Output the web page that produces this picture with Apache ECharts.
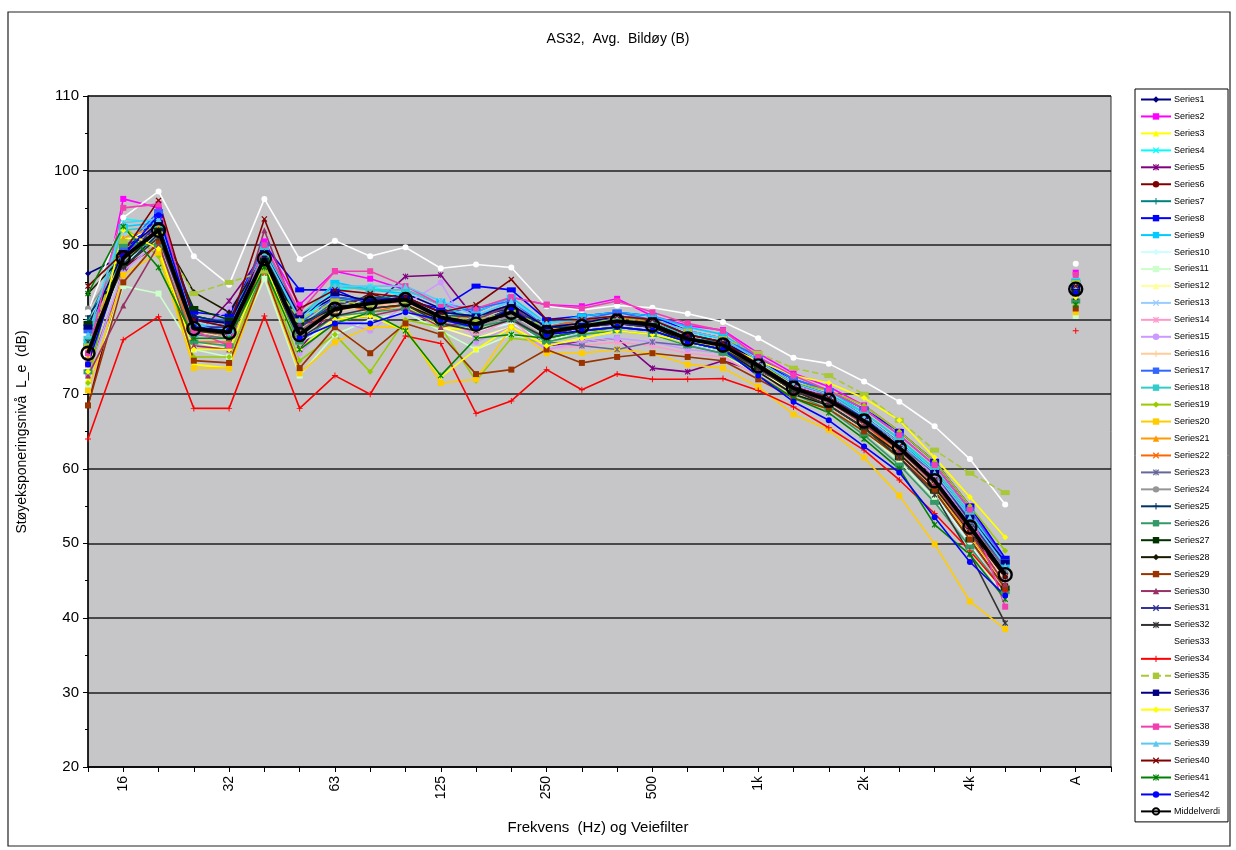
<!DOCTYPE html>
<html><head><meta charset="utf-8">
<script src="https://cdn.jsdelivr.net/npm/echarts@6/dist/echarts.min.js"></script>
<style>html,body{margin:0;padding:0;background:#fff}#c{width:1236px;height:850px}</style>
</head><body><div id="c"></div>
<script>
// categories: 1/3-octave bands 12.5 Hz .. 5 kHz, empty slot, A-weighted, end slot
const categories = ['12.5','16','20','25','32','40','50','63','80','100','125','160','200','250','315','400','500','630','800','1k','1.25k','1.6k','2k','2.5k','3.15k','4k','5k',' ','A','  '];
const yTicks = [20,30,40,50,60,70,80,90,100,110];

const s1  = [86.2,88.5,93.8,80.5,79.5,89.5,80.5,83.0,82.5,83.5,81.5,80.0,82.0,79.0,79.5,80.0,79.5,78.0,77.0,74.0,71.0,69.5,66.8,63.0,58.5,52.0,45.5,null,84.5];
const s2  = [74.0,96.2,95.0,79.5,78.0,90.5,82.0,86.5,85.5,84.0,82.0,81.0,83.0,82.0,81.8,82.8,80.5,79.2,78.6,75.5,72.8,71.0,68.5,65.0,61.0,55.0,47.5,null,86.3];
const s3  = [72.0,91.0,90.0,74.0,73.5,87.0,76.0,80.0,81.0,82.0,79.0,78.5,80.0,77.0,78.0,78.5,78.0,76.5,75.5,72.5,69.5,68.0,65.0,61.5,57.0,50.5,44.0,null,83.0];
const s4  = [78.0,93.5,93.0,79.0,78.5,89.0,79.5,84.0,84.5,83.0,81.0,80.5,82.5,79.5,80.0,80.5,80.0,78.0,77.5,74.5,71.5,70.0,67.5,64.0,59.5,53.5,46.5,null,84.8];
const s5  = [73.0,86.0,93.5,77.5,82.5,89.0,76.0,82.0,81.5,85.8,86.0,80.0,80.5,76.5,77.0,77.5,73.5,73.0,74.5,73.0,71.0,70.0,67.0,63.5,59.0,52.5,45.0,null,82.5];
const s6  = [68.5,87.0,90.0,78.5,77.5,87.5,78.5,81.0,83.5,82.0,80.0,79.0,81.5,78.0,79.0,79.5,79.0,77.0,76.5,73.5,70.5,69.0,66.0,62.5,58.0,51.5,44.5,null,83.5];
const s7  = [80.0,90.0,91.5,80.0,79.0,88.5,79.0,82.5,83.0,83.0,81.0,80.5,82.0,78.5,79.5,80.0,79.5,77.5,77.0,74.0,71.0,69.5,66.5,63.0,58.5,52.5,46.0,null,84.0];
const s8  = [76.5,89.0,94.0,81.0,80.5,90.0,84.0,84.0,82.0,82.5,81.5,84.5,84.0,80.0,80.5,81.0,80.5,78.5,77.5,74.5,72.0,70.5,68.0,65.0,61.0,55.0,48.0,null,85.0];
const s9  = [77.0,92.5,93.0,78.0,79.5,89.5,80.0,85.0,84.0,83.5,82.5,81.0,83.0,79.5,80.5,81.0,80.5,79.0,78.0,75.0,72.0,70.5,67.5,64.0,60.0,54.0,47.0,null,85.2];
const s10 = [75.0,87.5,91.0,79.0,78.5,87.5,77.0,79.5,81.0,82.0,80.0,78.5,79.5,77.0,78.0,79.0,78.5,77.0,76.0,73.0,70.0,68.5,65.5,61.5,56.5,50.0,43.0,null,83.0];
const s11 = [71.0,84.5,83.5,76.0,75.0,85.5,72.5,78.0,80.0,81.0,78.5,76.0,78.0,77.0,78.5,79.0,78.5,77.0,75.5,72.5,70.0,68.0,65.0,61.0,56.0,49.0,43.0,null,80.5];
const s12 = [73.5,90.5,92.5,77.0,76.0,86.5,77.5,80.0,81.0,81.5,79.0,77.5,79.0,76.5,77.5,78.5,78.0,76.5,75.5,73.0,70.5,69.0,66.0,62.0,57.5,51.0,44.0,null,82.5];
const s13 = [79.0,91.5,92.0,79.5,79.0,88.5,78.5,81.5,82.0,83.5,82.5,81.5,82.5,78.0,78.0,77.5,77.0,76.5,76.0,73.5,70.5,69.0,66.0,62.5,58.0,51.5,45.0,null,83.8];
const s14 = [74.5,88.0,93.5,76.5,76.0,86.5,77.0,80.5,81.5,82.5,80.0,78.0,80.0,76.0,76.5,77.0,76.5,75.5,75.0,72.5,70.0,68.5,65.5,62.0,57.0,50.5,43.5,null,82.8];
const s15 = [72.5,86.5,90.5,78.0,81.5,88.0,75.5,80.0,78.5,82.0,85.0,77.0,79.0,76.0,77.0,77.5,77.0,76.0,75.5,73.5,71.0,70.0,67.0,63.5,59.0,52.5,46.0,null,83.2];
const s16 = [76.0,89.5,91.5,78.5,77.5,87.0,78.0,81.0,82.0,82.0,80.5,79.5,81.0,78.5,79.5,80.0,79.5,77.5,76.5,73.5,70.5,69.0,66.0,62.5,58.0,51.5,45.0,null,84.0];
const s17 = [78.5,89.5,94.5,80.0,80.0,90.0,79.5,83.0,82.5,83.0,81.0,81.5,82.5,79.0,80.0,81.0,80.0,78.5,77.5,75.0,72.0,70.5,68.0,64.5,60.5,54.5,47.5,null,84.6];
const s18 = [77.5,92.0,92.5,79.5,78.5,89.5,80.5,84.5,84.0,84.0,82.0,80.0,82.0,79.0,79.5,80.0,79.5,78.0,77.0,74.5,71.5,70.0,67.5,64.0,60.0,54.0,47.5,null,84.7];
const s19 = [71.5,92.5,88.5,75.0,75.0,87.0,74.5,78.0,73.0,80.0,79.0,71.8,77.5,77.0,78.0,79.0,78.5,77.0,76.0,74.0,71.5,70.5,68.5,65.0,61.0,55.0,49.0,null,82.0];
const s20 = [70.5,86.0,89.0,73.5,73.5,86.5,72.8,77.0,79.0,79.0,71.5,72.0,79.0,75.5,75.5,76.0,75.5,74.0,73.5,71.0,67.3,65.2,61.5,56.4,49.9,42.2,38.5,null,81.0];
const s21 = [75.0,91.0,92.5,78.5,78.0,88.0,78.5,82.0,82.0,82.5,80.5,79.5,81.5,78.5,79.5,80.5,79.5,77.5,76.5,73.5,70.5,68.5,65.5,62.0,57.5,51.0,44.5,null,84.0];
const s22 = [76.0,88.0,92.0,77.0,77.0,88.0,78.0,82.5,81.0,82.0,80.0,80.5,82.0,79.0,80.0,80.5,79.5,77.0,76.0,73.5,70.5,69.0,66.0,62.0,57.5,52.0,47.0,null,83.5];
const s23 = [74.0,89.0,92.0,78.0,77.5,87.0,78.5,81.5,82.0,83.0,80.5,79.0,80.5,77.0,76.5,76.0,77.0,76.5,75.5,73.5,70.5,69.0,66.5,63.0,59.5,53.0,46.5,null,83.2];
const s24 = [81.5,88.0,91.0,78.5,78.5,88.5,77.5,82.0,82.0,82.5,80.0,79.0,80.5,77.5,78.5,79.0,78.5,77.0,76.0,73.5,70.5,69.0,66.5,63.0,58.5,52.5,46.0,null,83.7];
const s25 = [80.5,87.0,91.5,80.5,79.5,89.0,79.0,82.0,83.0,82.5,80.5,80.5,81.5,79.0,79.0,80.0,79.5,77.5,76.5,74.0,71.0,69.5,66.5,63.0,58.5,52.5,46.0,null,84.0];
const s26 = [73.0,90.0,90.0,77.0,76.5,86.5,77.0,80.5,81.0,81.5,79.5,79.0,80.0,77.0,78.0,78.5,78.0,76.5,75.5,73.0,70.0,68.0,64.5,60.5,55.5,49.5,43.5,null,82.5];
const s27 = [79.5,87.5,92.0,81.5,80.0,88.0,79.5,81.5,82.5,82.5,80.5,79.5,81.5,78.0,79.0,80.0,79.5,77.5,76.5,73.5,70.5,68.5,65.5,61.5,57.0,50.5,44.0,null,83.8];
const s28 = [83.5,88.5,92.0,83.7,81.0,88.5,79.0,82.0,81.5,82.0,80.0,79.5,81.0,78.0,79.0,79.5,79.0,77.0,76.0,73.0,70.0,68.5,65.5,62.0,57.5,51.5,45.5,null,84.0];
const s29 = [68.5,85.0,90.5,74.5,74.2,86.5,73.5,79.0,75.5,79.5,78.0,72.7,73.3,76.0,74.2,75.0,75.5,75.0,74.5,72.0,69.5,68.0,65.0,61.5,57.0,50.5,44.0,null,81.5];
const s30 = [72.5,81.9,90.0,76.5,76.0,92.0,79.5,80.0,80.5,81.5,79.0,80.0,82.0,78.0,79.0,79.5,79.5,77.5,76.5,73.5,70.5,69.0,66.0,62.5,58.0,51.5,44.5,null,83.5];
const s31 = [74.5,88.0,93.0,79.0,79.0,88.0,79.0,82.0,83.0,82.5,80.5,79.5,81.5,78.5,79.0,79.5,79.0,77.5,76.5,74.0,71.0,69.5,67.0,63.5,59.5,53.0,47.0,null,83.8];
const s32 = [77.0,87.0,91.0,78.5,78.0,87.0,77.5,80.5,81.5,82.0,79.5,78.5,80.0,77.5,78.5,79.0,78.5,77.0,76.0,73.5,70.5,68.5,65.5,61.5,56.5,48.6,39.3,null,83.0];
const s33 = [81.0,93.7,97.2,88.5,84.7,96.2,88.1,90.6,88.5,89.7,86.9,87.4,87.0,81.8,81.3,81.9,81.6,80.8,79.7,77.5,74.9,74.1,71.7,69.0,65.7,61.3,55.2,null,87.5];
const s34 = [64.0,77.3,80.4,68.1,68.1,80.5,68.1,72.5,70.0,77.8,76.8,67.4,69.1,73.3,70.6,72.7,72.0,72.0,72.1,70.5,68.3,65.5,62.5,58.5,54.0,49.0,43.5,null,78.5];
const s35 = [76.5,90.5,91.5,83.5,85.0,86.5,80.0,82.5,82.0,82.5,80.5,80.0,81.0,79.0,79.5,80.0,80.0,78.5,77.5,75.5,73.5,72.5,70.0,66.5,62.5,59.4,56.8,null,85.0];
const s36 = [79.0,89.0,93.0,80.0,79.5,89.0,80.5,83.5,82.5,83.0,81.0,80.5,82.0,79.0,79.5,80.5,80.0,78.0,77.0,74.5,71.5,70.0,67.0,63.5,59.5,53.5,47.5,null,84.3];
const s37 = [73.0,92.0,89.5,76.0,76.0,87.5,76.0,80.0,80.5,78.5,72.3,76.0,79.0,76.5,77.5,78.5,78.0,77.0,76.5,74.5,72.5,71.5,69.5,66.5,61.5,56.2,50.8,null,83.0];
const s38 = [75.5,95.0,95.5,78.5,76.5,90.0,81.0,86.5,86.5,84.5,82.0,81.5,83.0,82.0,81.5,82.5,81.0,79.5,78.5,75.0,72.5,70.5,68.0,64.5,60.5,54.5,41.5,null,86.0];
const s39 = [78.0,93.0,93.5,79.5,78.0,89.0,80.0,84.5,84.5,84.5,82.5,80.5,82.5,79.5,80.0,80.5,80.0,78.5,77.5,74.5,71.5,70.0,67.0,63.5,59.5,53.5,47.0,null,84.5];
const s40 = [84.5,89.0,96.0,80.0,79.0,93.5,81.5,84.0,83.5,83.0,81.0,82.0,85.4,80.0,80.0,80.5,80.0,78.0,77.0,74.0,71.0,69.5,66.5,63.0,58.5,52.0,45.5,null,84.5];
const s41 = [83.5,92.5,87.0,77.5,77.5,87.0,76.0,79.5,81.0,78.5,72.5,77.5,78.0,77.5,78.5,79.0,78.5,77.0,76.0,72.5,69.5,67.5,64.0,60.0,52.5,48.5,42.5,null,82.0];
const s42 = [74.0,88.5,94.0,79.0,78.5,88.0,77.5,79.5,79.5,81.0,80.0,79.0,81.5,78.0,78.5,79.0,78.5,77.0,76.0,72.5,69.0,66.5,63.0,59.5,53.5,47.5,43.0,null,83.5];
const middelverdi = [75.5,88.3,92.0,78.8,78.3,88.2,78.0,81.4,82.2,82.7,80.3,79.4,81.0,78.3,79.1,79.8,79.3,77.4,76.6,73.8,70.8,69.2,66.4,62.8,58.4,52.2,45.8,null,84.1];

const seriesData = [s1,s2,s3,s4,s5,s6,s7,s8,s9,s10,s11,s12,s13,s14,s15,s16,s17,s18,s19,s20,s21,s22,s23,s24,s25,s26,s27,s28,s29,s30,s31,s32,s33,s34,s35,s36,s37,s38,s39,s40,s41,s42];
const colors = ['#000080','#FF00FF','#FFFF00','#00FFFF','#800080','#800000','#008080','#0000FF','#00CCFF','#CCFFFF','#CCFFCC','#FFFF99','#99CCFF','#FF99CC','#CC99FF','#FFCC99','#3366FF','#33CCCC','#99CC00','#FFCC00','#FF9900','#FF6600','#666699','#969696','#003366','#339966','#003300','#1a1a00','#993300','#993366','#333399','#333333','#FFFFFF','#FF0000','#A8C83A','#000080','#FFFF00','#F040B0','#5CC8F0','#800000','#008000','#0000FF'];

const SYM = {
  diamond: 'diamond',
  square: 'rect',
  triangle: 'triangle',
  x: 'path://M0,1.4L1.4,0L5,3.6L8.6,0L10,1.4L6.4,5L10,8.6L8.6,10L5,6.4L1.4,10L0,8.6L3.6,5Z',
  star: 'path://M0,1.4L1.4,0L4.3,2.9V0H5.7V2.9L8.6,0L10,1.4L6.4,5L10,8.6L8.6,10L5.7,7.1V10H4.3V7.1L1.4,10L0,8.6L3.6,5Z',
  circle: 'circle',
  plus: 'path://M4.2,0H5.8V4.2H10V5.8H5.8V10H4.2V5.8H0V4.2H4.2Z',
  dash: 'path://M0,4H10V6H0Z',
  ldash: 'path://M0,4.2H10V5.8H0Z'
};
const cycle = ['diamond','square','triangle','x','star','circle','plus','dash','ldash'];

const chart = echarts.init(document.getElementById('c'), null, {renderer:'canvas'});
const series = seriesData.map((d,i) => {
  const k = cycle[i % 9];
  const isLine = (k === 'dash' || k === 'ldash');
  return {
    name: 'Series' + (i+1),
    type: 'line',
    data: d,
    connectNulls: false,
    symbol: SYM[k],
    symbolSize: isLine ? [9,5] : 6,
    showAllSymbol: true,
    lineStyle: {color: colors[i], width: 1.6, type: (i === 34 ? 'dashed' : 'solid')},
    itemStyle: {color: colors[i], borderColor: colors[i], borderWidth: 0},
    emphasis: {disabled: true},
    animation: false,
    z: 2
  };
});
series.push({
  name: 'Middelverdi',
  type: 'line',
  data: middelverdi,
  symbol: 'circle',
  symbolSize: 13,
  showAllSymbol: true,
  lineStyle: {color: '#000', width: 3.8},
  itemStyle: {color: 'rgba(0,0,0,0)', borderColor: '#000', borderWidth: 2.4},
  emphasis: {disabled: true},
  animation: false,
  z: 5
});

const FONT = 'Liberation Sans, Arial, sans-serif';
chart.setOption({
  animation: false,
  backgroundColor: '#ffffff',
  grid: {left: 88, top: 96, right: 125, bottom: 83, show: true, backgroundColor: '#c6c6c9', borderColor: '#333', borderWidth: 1, containLabel: false},
  xAxis: {
    type: 'category',
    data: categories,
    boundaryGap: false,
    axisLine: {show: true, lineStyle: {color: '#000', width: 1.5}},
    axisTick: {show: true, interval: 0, length: 5, lineStyle: {color: '#000'}},
    axisLabel: {interval: (i) => i % 3 === 1, rotate: 90, fontSize: 14, color: '#000', fontFamily: FONT, margin: 9},
    splitLine: {show: false}
  },
  yAxis: {
    type: 'value',
    min: 20, max: 110, interval: 10,
    axisLine: {show: true, lineStyle: {color: '#000', width: 1.5}},
    axisTick: {show: true, length: 5, lineStyle: {color: '#000'}},
    minorTick: {show: true, splitNumber: 2, length: 3, lineStyle: {color: '#000'}},
    axisLabel: {fontSize: 15, color: '#000', fontFamily: FONT, margin: 9},
    splitLine: {show: true, lineStyle: {color: '#1e1e1e', width: 1.5}}
  },
  legend: {
    orient: 'vertical',
    left: 1135, top: 89,
    backgroundColor: '#fff',
    borderColor: '#000', borderWidth: 1,
    padding: [6, 8, 6, 5],
    itemWidth: 30, itemHeight: 8, itemGap: 7.95,
    textStyle: {fontSize: 9, fontFamily: FONT, color: '#000', padding: [0,0,0,-2]},
    selectedMode: false,
    data: series.map(s => s.name)
  },
  graphic: [
    {type: 'rect', shape: {x: 8, y: 12, width: 1222, height: 834}, style: {fill: 'none', stroke: '#222', lineWidth: 1.2}, silent: true, z: -1},
    {type: 'text', left: 'center', top: 32, style: {text: 'AS32,  Avg.  Bildøy (B)', fontSize: 14, fontFamily: FONT, fill: '#000'}},
    {type: 'text', x: 15, y: 432, rotation: Math.PI/2, style: {text: 'Støyeksponeringsnivå  L_e  (dB)', fontSize: 14, fontFamily: FONT, fill: '#000', align: 'center', verticalAlign: 'top'}},
    {type: 'text', x: 598, y: 820, style: {text: 'Frekvens  (Hz) og Veiefilter', fontSize: 15, fontFamily: FONT, fill: '#000', align: 'center', verticalAlign: 'top'}}
  ],
  series: series
});
</script>
</body></html>
